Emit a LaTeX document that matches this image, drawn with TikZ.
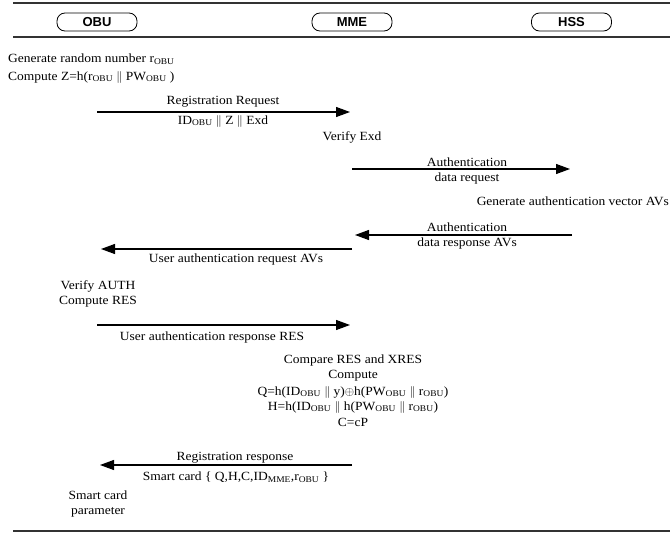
\documentclass[tikz,border=0pt]{standalone}
\usepackage{fontspec}
\setmainfont{Liberation Serif}[FakeStretch=1.08]
\setsansfont{Liberation Sans}
\usetikzlibrary{arrows.meta}
\newcommand{\obu}{\textsubscript{OBU}}
\newcommand{\mme}{\textsubscript{MME}}
\newcommand{\pipes}{$\|$}
\begin{document}
\begin{tikzpicture}[x=1pt,y=-1pt,
    lifebox/.style={draw,rounded corners=8pt,minimum width=80pt,minimum height=18pt,
        inner sep=0pt,line width=0.8pt,font=\sffamily\bfseries\fontsize{13}{15}\selectfont},
    msg/.style={line width=1.1pt,-{Triangle[length=14pt,width=10pt]}},
    lbl/.style={inner sep=0pt,font=\fontsize{12.5}{15}\selectfont},
    rule/.style={line width=1.4pt,draw=black!80}]
    \useasboundingbox (0,0) rectangle (670,533);

    % Header rules
    \draw [rule] (13,3) -- (670,3);
    \draw [rule] (13,37) -- (670,37);
    \draw [rule] (13,531) -- (670,531);

    % Parties
    \node [lifebox] (obu) at (97,22) {OBU};
    \node [lifebox] (mme) at (352,22) {MME};
    \node [lifebox] (hss) at (571.5,22) {HSS};

    % Message ends
    \coordinate (m1a) at (97,112);  \coordinate (m1b) at (350,112);
    \coordinate (m2a) at (352,169); \coordinate (m2b) at (570,169);
    \coordinate (m3a) at (572,235); \coordinate (m3b) at (355,235);
    \coordinate (m4a) at (352,249); \coordinate (m4b) at (101,249);
    \coordinate (m5a) at (97,325);  \coordinate (m5b) at (350,325);
    \coordinate (m6a) at (352,465); \coordinate (m6b) at (100,465);

    % Messages
    \draw [msg] (m1a) -- (m1b);
    \draw [msg] (m2a) -- (m2b);
    \draw [msg] (m3a) -- (m3b);
    \draw [msg] (m4a) -- (m4b);
    \draw [msg] (m5a) -- (m5b);
    \draw [msg] (m6a) -- (m6b);

    % OBU: registration
    \node (gen) at (8,59) [lbl,right] {Generate random number r\obu};
    \node (cz) at (8,77) [lbl,right] {Compute Z=h(r\obu{} \pipes{} PW\obu{} )};
    \node (regreq) at (223,102) [lbl] {Registration Request};
    \node (idz) at (223,121) [lbl] {ID\obu{} \pipes{} Z \pipes{} Exd};

    % MME / HSS
    \node (vexd) at (352,137) [lbl] {Verify Exd};
    \node (authq) at (467,162) [lbl] {Authentication};
    \node (dreq) at (467,178) [lbl] {data request};
    \node (genav) at (669,201) [lbl,left] {Generate authentication vector AVs};
    \node (authr) at (467,227) [lbl] {Authentication};
    \node (dresp) at (467,243) [lbl] {data response AVs};
    \node (uareq) at (236,259) [lbl] {User authentication request AVs};

    % OBU: authentication
    \node (vauth) at (98,286) [lbl] {Verify AUTH};
    \node (cres) at (98,302) [lbl] {Compute RES};
    \node (uaresp) at (212,337) [lbl] {User authentication response RES};

    % MME: smart card values
    \node (cmp) at (353,360) [lbl] {Compare RES and XRES};
    \node (comp) at (353,376) [lbl] {Compute};
    \node (qq) at (353,392) [lbl] {Q=h(ID\obu{} \pipes{} y)$\oplus$h(PW\obu{} \pipes{} r\obu)};
    \node (hh) at (353,407) [lbl] {H=h(ID\obu{} \pipes{} h(PW\obu{} \pipes{} r\obu)};
    \node (cc) at (353,422) [lbl] {C=cP};

    % Registration response
    \node (regresp) at (235,458) [lbl] {Registration response};
    \node (card) at (236,477) [lbl] {Smart card \{ Q,H,C,ID\mme,r\obu{} \}};
    \node (scard) at (98,495) [lbl] {Smart card};
    \node (param) at (98,512) [lbl] {parameter};
\end{tikzpicture}
\end{document}
